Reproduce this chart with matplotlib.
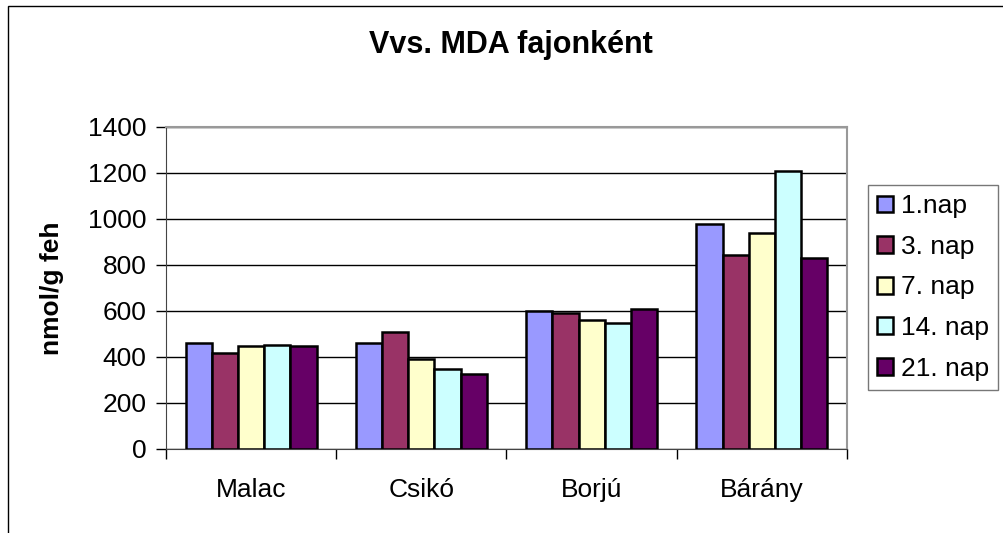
import numpy as np
import matplotlib.pyplot as plt
from matplotlib.patches import Rectangle

plt.rcParams['font.family'] = ['Liberation Sans', 'DejaVu Sans']

# adatok
categories = ['Malac', 'Csikó', 'Borjú', 'Bárány']
series_names = ['1.nap', '3. nap', '7. nap', '14. nap', '21. nap']
nap1 = [459, 462, 601, 978]
nap3 = [416, 507, 593, 843]
nap7 = [448, 390, 560, 940]
nap14 = [452, 346, 547, 1210]
nap21 = [449, 326, 609, 832]
colors = ['#9999FF', '#993366', '#FFFFCC', '#CCFFFF', '#660066']
yticks = [0, 200, 400, 600, 800, 1000, 1200, 1400]

values = [nap1, nap3, nap7, nap14, nap21]

fig = plt.figure(figsize=(10.04, 5.33), dpi=100)
# kulso keret
fig.patches.append(Rectangle((8/1004, -0.05), 1.1, 1-6/533+0.05, transform=fig.transFigure,
                             fill=False, edgecolor='black', linewidth=1.0))

ax = fig.add_axes([166/1004, 1-449/533, (847-166)/1004, (449-127)/533])

x = np.arange(len(categories))
w = 1/6.5
for i, (name, vals) in enumerate(zip(series_names, values)):
    ax.bar(x - 2*w + i*w, vals, width=w, color=colors[i], edgecolor='black',
           linewidth=1.8, label=name, zorder=3)

ax.set_xlim(-0.5, len(categories)-0.5)
ax.set_ylim(0, 1400)
ax.set_yticks(yticks)
ax.set_yticklabels([str(t) for t in yticks], fontsize=19)
ax.set_xticks(x)
ax.set_xticklabels(categories, fontsize=19)
ax.tick_params(axis='x', length=0, pad=21)
ax.set_xticks(np.arange(-0.5, len(categories)), minor=True)
ax.tick_params(axis='x', which='minor', length=7, color='black', width=1)
ax.tick_params(axis='y', length=7, color='black', width=1, pad=7)
ax.grid(axis='y', color='black', linewidth=1, zorder=0)

ax.spines['top'].set_color('#999999')
ax.spines['right'].set_color('#999999')
ax.spines['top'].set_linewidth(1.5)
ax.spines['right'].set_linewidth(1.5)
ax.spines['left'].set_color('#444444')
ax.spines['bottom'].set_color('#444444')

fig.text(52/1004, 1-288/533, 'nmol/g feh', rotation=90, ha='center', va='center',
         fontsize=19, fontweight='bold')
fig.text(511/1004, 1-45/533, 'Vvs. MDA fajonként', ha='center', va='center',
         fontsize=22, fontweight='bold')

leg = fig.legend(loc='upper left', bbox_to_anchor=(868/1004, 1-185/533), fontsize=19,
                 frameon=True, fancybox=False, edgecolor='#555555',
                 handlelength=0.6, handleheight=0.6, handletextpad=0.3,
                 labelspacing=0.63, borderpad=0.35, borderaxespad=0)
leg.get_frame().set_linewidth(1.0)

fig.savefig('out.png', dpi=100)
